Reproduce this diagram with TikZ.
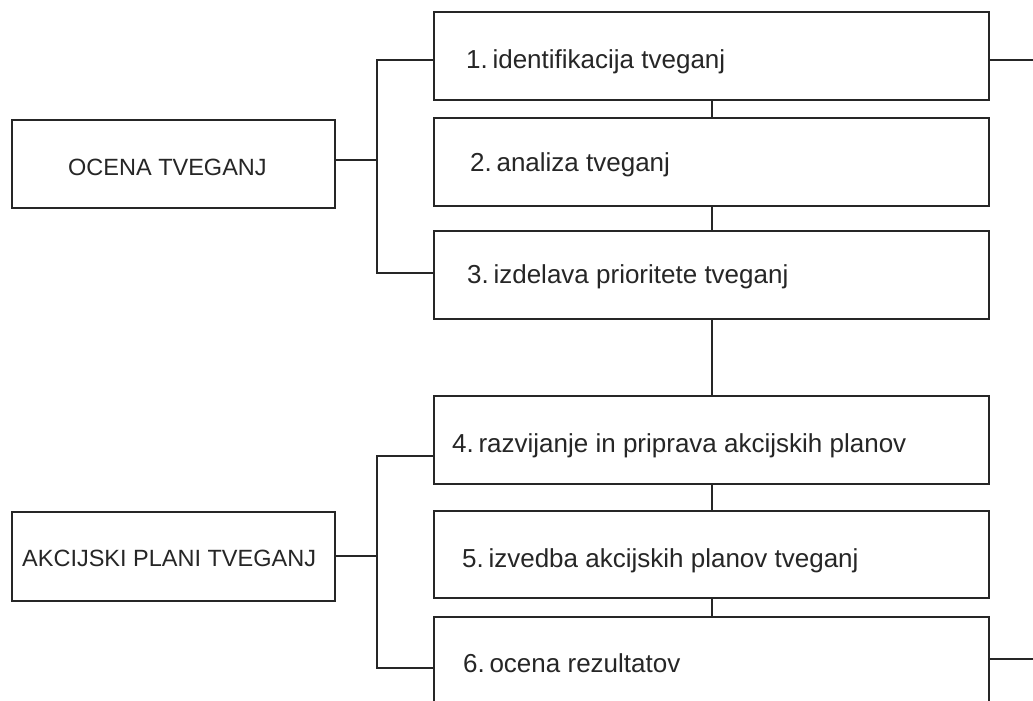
\documentclass[tikz,border=0pt]{standalone}
\usepackage{fontspec}
\setmainfont{Liberation Sans}
\begin{document}
\begin{tikzpicture}[x=1pt,y=-1pt,
  line/.style={draw=black!85,line width=1.6pt},
  box/.style={draw=black!85,line width=1.6pt,fill=white},
  txt/.style={anchor=base west,inner sep=0pt,font=\fontsize{23.5}{28}\selectfont,text=black!85},
  btxt/.style={txt,font=\fontsize{26}{30}\selectfont}]
\useasboundingbox (0,0) rectangle (1033,701);
\clip (0,0) rectangle (1033,701);
% left boxes
\draw[box] (12,120) rectangle (335,208);
\draw[box] (12,512) rectangle (335,601);
\node[txt] (tocena) at (68,175) {OCENA TVEGANJ};
\node[txt] (takc) at (22,566) {AKCIJSKI PLANI TVEGANJ};
% right boxes
\draw[box] (434,12) rectangle (989,100);
\draw[box] (434,118) rectangle (989,206);
\draw[box] (434,231) rectangle (989,319);
\draw[box] (434,396) rectangle (989,484);
\draw[box] (434,511) rectangle (989,598);
\draw[box] (434,617) rectangle (989,720);
\node[btxt] (t1) at (466,68) {1.\hspace{0.18em}identifikacija tveganj};
\node[btxt] (t2) at (470,171) {2.\hspace{0.18em}analiza tveganj};
\node[btxt] (t3) at (467,283) {3.\hspace{0.18em}izdelava prioritete tveganj};
\node[btxt] (t4) at (452,452) {4.\hspace{0.18em}razvijanje in priprava akcijskih planov};
\node[btxt] (t5) at (462,567) {5.\hspace{0.18em}izvedba akcijskih planov tveganj};
\node[btxt] (t6) at (463,672) {6.\hspace{0.18em}ocena rezultatov};
% coordinates
\coordinate (oe) at (335,160);
\coordinate (ob) at (377,160);
\coordinate (o1) at (377,60);
\coordinate (o3) at (377,273);
\coordinate (b1w) at (434,60);
\coordinate (b3w) at (434,273);
\coordinate (ae) at (335,556);
\coordinate (ab) at (377,556);
\coordinate (a4) at (377,456);
\coordinate (a6) at (377,668);
\coordinate (b4w) at (434,456);
\coordinate (b6w) at (434,668);
\coordinate (c1) at (712,100);
\coordinate (c2) at (712,118);
\coordinate (c3) at (712,206);
\coordinate (c4) at (712,231);
\coordinate (c5) at (712,319);
\coordinate (c6) at (712,396);
\coordinate (c7) at (712,484);
\coordinate (c8) at (712,511);
\coordinate (c9) at (712,598);
\coordinate (c10) at (712,617);
\coordinate (r1a) at (989,60);
\coordinate (r1b) at (1033,60);
\coordinate (r6a) at (989,659);
\coordinate (r6b) at (1033,659);
% connectors
\draw[line] (oe) -- (ob);
\draw[line] (b1w) -- (o1) -- (o3) -- (b3w);
\draw[line] (ae) -- (ab);
\draw[line] (b4w) -- (a4) -- (a6) -- (b6w);
\draw[line] (c1) -- (c2);
\draw[line] (c3) -- (c4);
\draw[line] (c5) -- (c6);
\draw[line] (c7) -- (c8);
\draw[line] (c9) -- (c10);
\draw[line] (r1a) -- (r1b);
\draw[line] (r6a) -- (r6b);
\end{tikzpicture}
\end{document}
